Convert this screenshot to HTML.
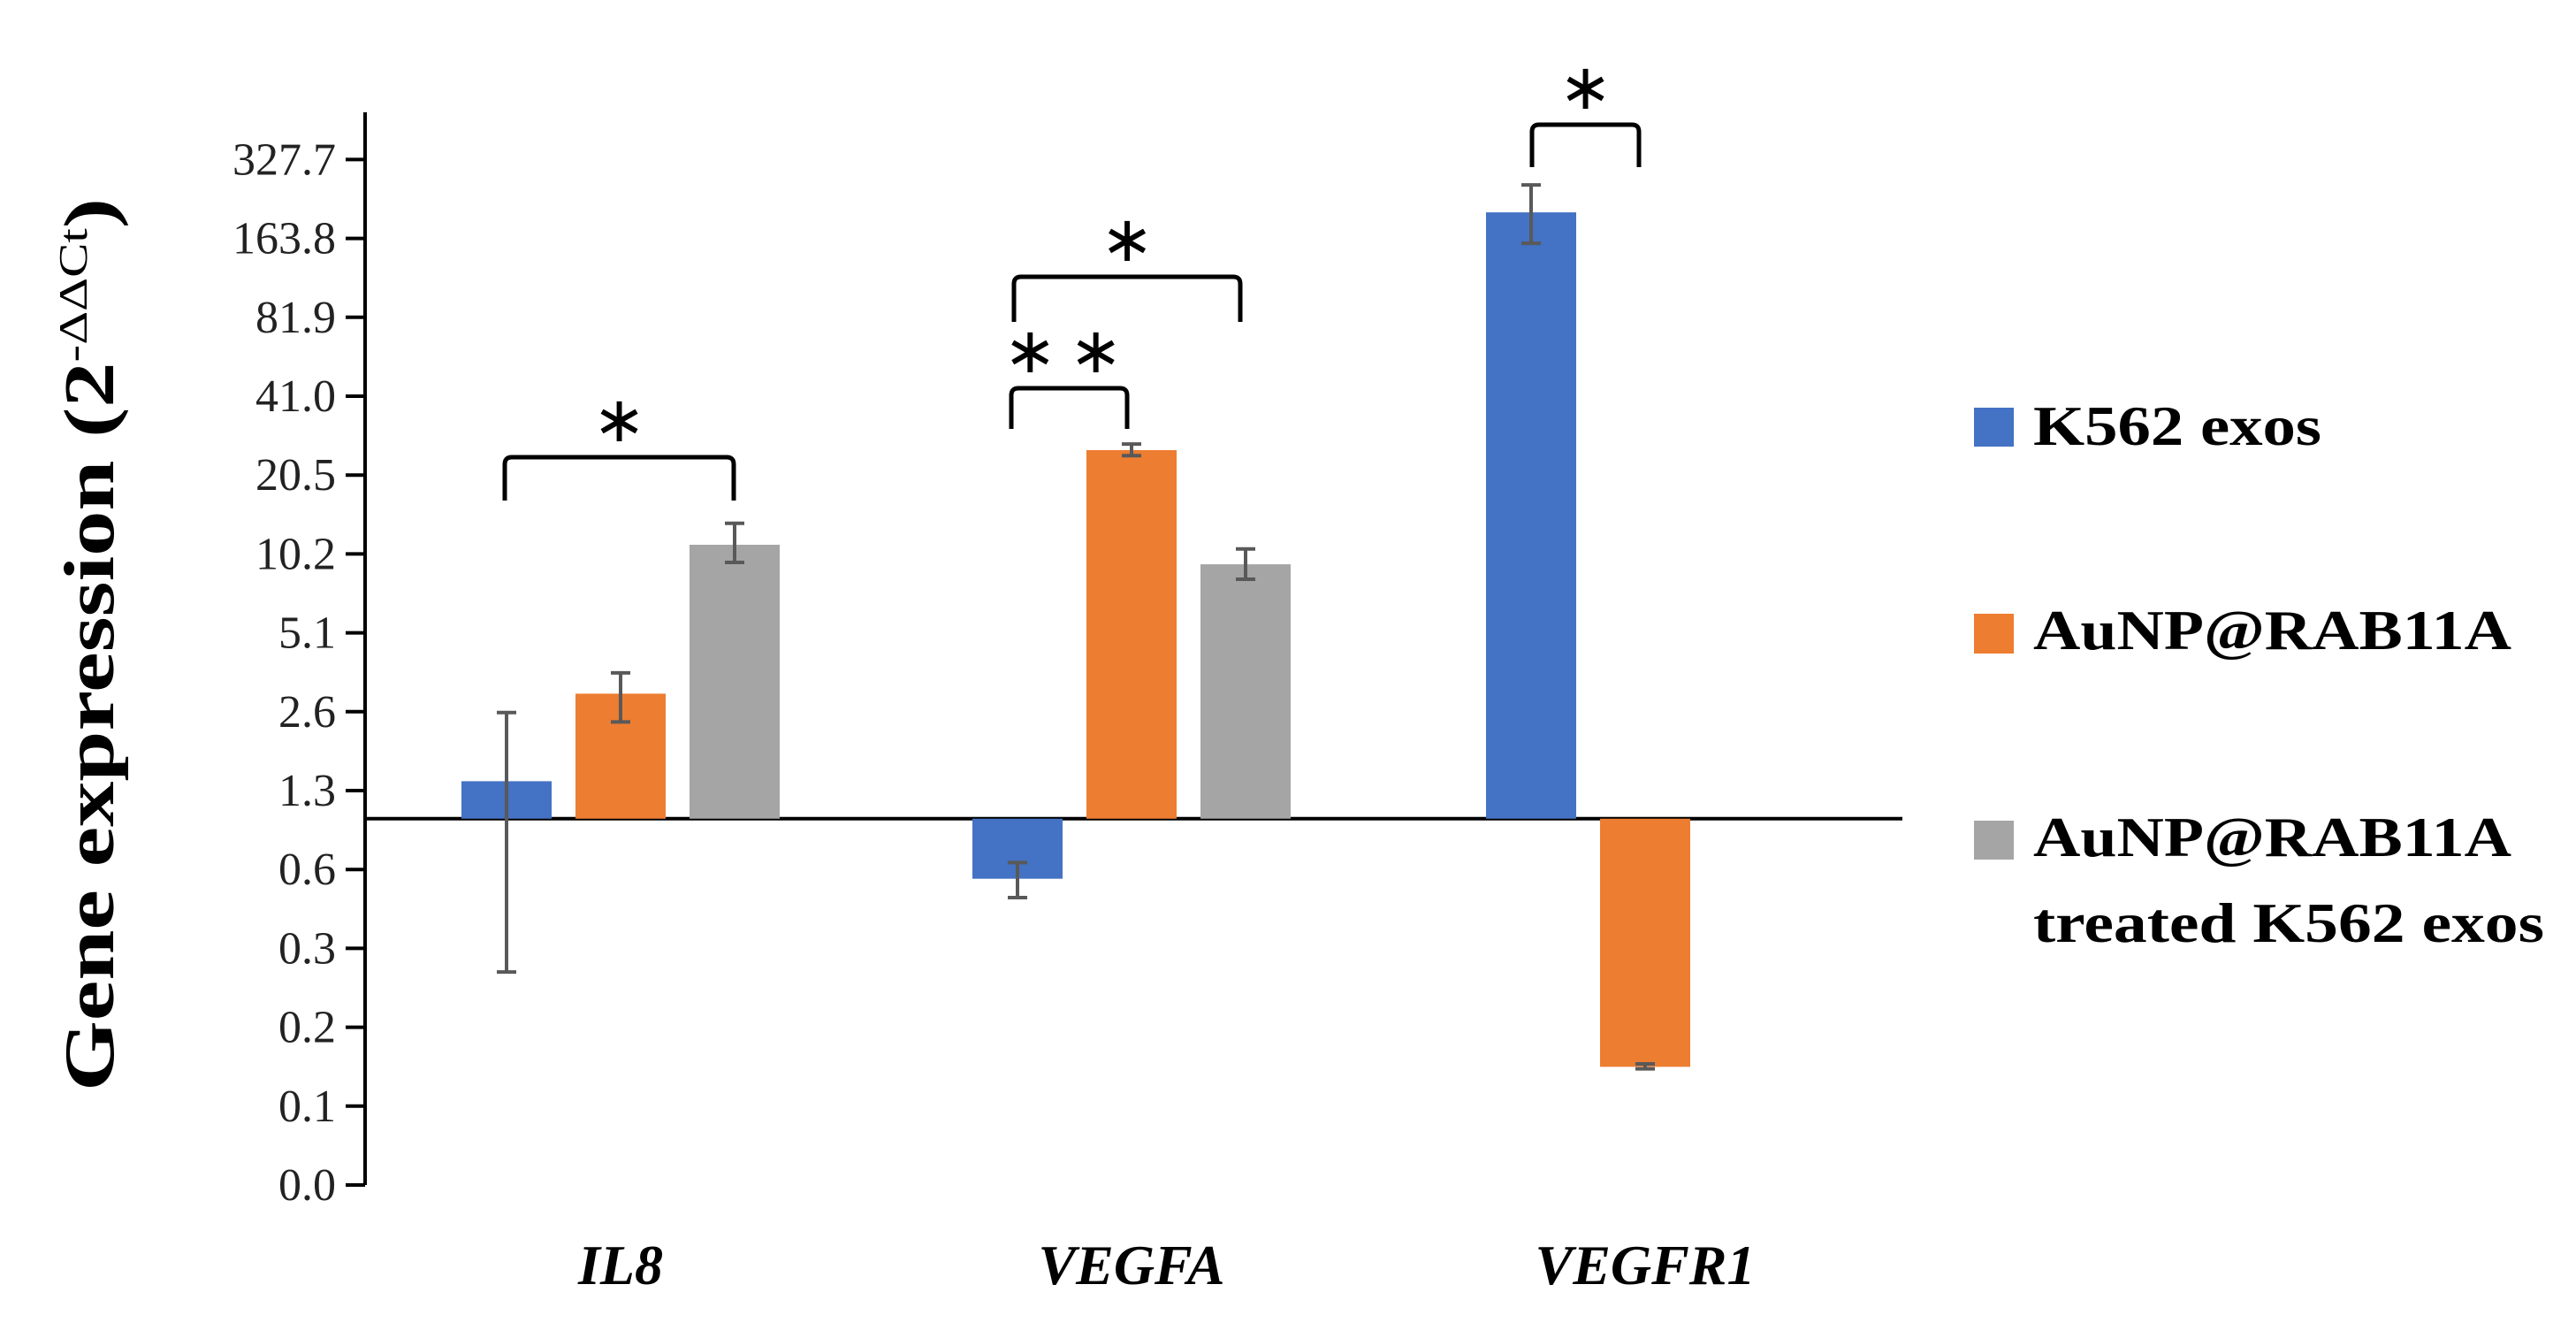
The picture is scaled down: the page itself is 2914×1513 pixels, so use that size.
<!DOCTYPE html>
<html><head><meta charset="utf-8"><style>
html,body{margin:0;padding:0;background:#fff;}
svg{display:block;}
text{font-family:"Liberation Serif",serif;}
</style></head>
<body>
<svg id="chart" width="2914" height="1513" viewBox="0 0 2914 1513" xmlns="http://www.w3.org/2000/svg">
<g id="axes"></g>
<g id="bars"></g>
<g id="errs"></g>
<g id="sig"></g>
<text transform="translate(128,729) rotate(-90)" text-anchor="middle" font-size="80" font-weight="bold" textLength="1010" lengthAdjust="spacingAndGlyphs">Gene expression (2<tspan font-size="46" font-weight="normal" dy="-30">-ΔΔCt</tspan><tspan dy="30">)</tspan></text>
<g font-weight="bold" font-size="64">
  <g>
    <rect x="2233" y="461" width="45" height="44" fill="#4472C4"/>
    <text x="2300" y="503" textLength="326" lengthAdjust="spacingAndGlyphs">K562 exos</text>
  </g>
  <g>
    <rect x="2233" y="694" width="45" height="45" fill="#ED7D31"/>
    <text x="2300" y="734" textLength="541" lengthAdjust="spacingAndGlyphs">AuNP@RAB11A</text>
  </g>
  <g>
    <rect x="2233" y="928" width="45" height="44" fill="#A5A5A5"/>
    <text x="2300" y="968" textLength="541" lengthAdjust="spacingAndGlyphs">AuNP@RAB11A</text>
    <text x="2300" y="1065" textLength="578" lengthAdjust="spacingAndGlyphs">treated K562 exos</text>
  </g>
</g>
</svg>
<script>
const categories = ["IL8", "VEGFA", "VEGFR1"];
const seriesNames = ["K562 exos", "AuNP@RAB11A", "AuNP@RAB11A treated K562 exos"];
const k562Values = [1.39, 0.59, 206];
const aunpValues = [3.0, 25.5, 0.113];
const treatedValues = [11.1, 9.35, null];
const k562ErrHi = [2.54, 0.68, 262];
const k562ErrLo = [0.26, 0.50, 157];
const aunpErrHi = [3.6, 26.9, 0.116];
const aunpErrLo = [2.34, 24.3, 0.111];
const treatedErrHi = [13.4, 10.7, null];
const treatedErrLo = [9.5, 8.2, null];
const tickLabels = ["0.0","0.1","0.2","0.3","0.6","1.3","2.6","5.1","10.2","20.5","41.0","81.9","163.8","327.7"];

const NS = "http://www.w3.org/2000/svg";
const colors = ["#4472C4", "#ED7D31", "#A5A5A5"];
const axisX = 413, yBottom = 1340, step = 89.2, tickMin = 0.04;
function y(v){ return yBottom - Math.log2(v / tickMin) * step; }
const baseY = y(1);
const groupStart = [522, 1100, 1681];
const barW = 102, pitch = 129;
function barX(ci, si){ return groupStart[ci] + si * pitch; }
function mk(tag, attrs, parent){
  const e = document.createElementNS(NS, tag);
  for (const k in attrs) e.setAttribute(k, attrs[k]);
  parent.appendChild(e);
  return e;
}
const axes = document.getElementById('axes');
const yAxis = mk('line', {x1:axisX, y1:127, x2:axisX, y2:yBottom, stroke:'#000', 'stroke-width':4}, axes);


tickLabels.forEach((lab, i) => {
  const ty = yBottom - i * step;
  const t = mk('line', {x1:axisX-22, y1:ty, x2:axisX, y2:ty, stroke:'#000', 'stroke-width':4}, axes);
  
  
  const tx = mk('text', {x:380, y:ty+17, 'text-anchor':'end', 'font-size':52, fill:'#222'}, axes);
  tx.textContent = lab;
  
  
});
const bl = mk('line', {x1:axisX, y1:baseY, x2:2152, y2:baseY, stroke:'#000', 'stroke-width':4}, axes);


categories.forEach((c, i) => {
  const cx = groupStart[i] + pitch + barW/2;
  const t = mk('text', {x:cx, y:1452, 'text-anchor':'middle', 'font-size':64, 'font-style':'italic', 'font-weight':'bold'}, axes);
  t.textContent = c;
  
  
});
const series = [k562Values, aunpValues, treatedValues];
const hi = [k562ErrHi, aunpErrHi, treatedErrHi];
const lo = [k562ErrLo, aunpErrLo, treatedErrLo];
const barsG = document.getElementById('bars'), errG = document.getElementById('errs');
series.forEach((vals, si) => {
  vals.forEach((v, ci) => {
    if (v == null) return;
    const x = barX(ci, si), vy = y(v);
    const r = mk('rect', {x:x, y:Math.min(vy, baseY), width:barW, height:Math.abs(vy-baseY), fill:colors[si]}, barsG);
    
    
    const cx = x + barW/2, y1 = y(hi[si][ci]), y2 = y(lo[si][ci]);
    const g = mk('g', {stroke:'#595959', 'stroke-width':4}, errG);
    
    
    mk('line', {x1:cx, y1:y1, x2:cx, y2:y2}, g);
    mk('line', {x1:cx-11, y1:y1, x2:cx+11, y2:y1}, g);
    mk('line', {x1:cx-11, y1:y2, x2:cx+11, y2:y2}, g);
  });
});
const sigLabels = ["*", "**", "*", "*"];
const sigG = document.getElementById('sig');
const brackets = [[571,830,517,566],[1144,1275,439,485],[1147,1403,313,364],[1733,1854,141,189]];
brackets.forEach((b, i) => {
  const p = mk('path', {d:`M${b[0]},${b[3]} L${b[0]},${b[2]+8} Q${b[0]},${b[2]} ${b[0]+8},${b[2]} L${b[1]-8},${b[2]} Q${b[1]},${b[2]} ${b[1]},${b[2]+8} L${b[1]},${b[3]}`, fill:'none', stroke:'#000', 'stroke-width':5}, sigG);
  
  
  const t = mk('text', {x:(b[0]+b[1])/2, y:b[2]-18, 'text-anchor':'middle', 'font-size':72, 'font-family':'Liberation Sans, sans-serif', 'letter-spacing': i===1 ? 14 : 0}, sigG);
  t.textContent = sigLabels[i] === "**" ? "∗∗" : "∗";
  
  
});
</script>
</body></html>
